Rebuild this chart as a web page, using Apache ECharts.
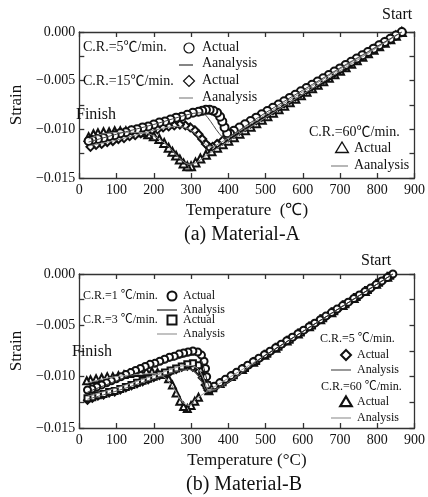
<!DOCTYPE html>
<html><head><meta charset="utf-8">
<script src="https://cdn.jsdelivr.net/npm/echarts@6/dist/echarts.min.js"></script>
<style>html,body{margin:0;padding:0;background:#fff}#c{width:428px;height:497px}</style>
</head><body><div id="c"></div>
<script>
// ---------- Material-A (cooling curves) ----------
const tempA5 = [866,850,835,820,805,790,775,760,745,730,715,700,685,670,655,640,625,610,595,580,565,550,535,520,505,490,475,460,445,430,415,405,397,390,384,378,370,360,350,340,330,320,305,290,275,260,245,230,215,200,185,170,155,140,125,110,95,80,65,50,35,25];
const strainA5 = [0,-0.00036,-0.0007,-0.00104,-0.00137,-0.00171,-0.00205,-0.00239,-0.00272,-0.00306,-0.0034,-0.00374,-0.00407,-0.00441,-0.00475,-0.00509,-0.00542,-0.00576,-0.0061,-0.00644,-0.00677,-0.00711,-0.00745,-0.00779,-0.00812,-0.00846,-0.0088,-0.00914,-0.00947,-0.00981,-0.01015,-0.01045,-0.0104,-0.0098,-0.0092,-0.0087,-0.0083,-0.0081,-0.008,-0.008,-0.0081,-0.0082,-0.0083,-0.0085,-0.0087,-0.0088,-0.009,-0.0092,-0.0093,-0.0095,-0.0097,-0.0098,-0.01,-0.0101,-0.0103,-0.0104,-0.0106,-0.0107,-0.0109,-0.011,-0.0111,-0.0112];

const tempA15 = [866,850,835,820,805,790,775,760,745,730,715,700,685,670,655,640,625,610,595,580,565,550,535,520,505,490,475,460,445,430,415,400,385,370,358,348,340,330,320,310,298,285,270,255,240,225,210,195,180,165,150,135,120,105,90,75,60,45,30];
const strainA15 = [0,-0.00037,-0.00072,-0.00107,-0.00142,-0.00176,-0.00211,-0.00246,-0.00281,-0.00316,-0.0035,-0.00385,-0.0042,-0.00455,-0.0049,-0.00524,-0.00559,-0.00594,-0.00629,-0.00664,-0.00698,-0.00733,-0.00768,-0.00803,-0.00838,-0.00872,-0.00907,-0.00942,-0.00977,-0.01012,-0.01046,-0.01081,-0.01116,-0.0115,-0.0118,-0.0118,-0.0115,-0.011,-0.0105,-0.0101,-0.0098,-0.0096,-0.0095,-0.0096,-0.0097,-0.0098,-0.01,-0.0101,-0.0103,-0.0104,-0.0106,-0.0107,-0.0109,-0.011,-0.0112,-0.0113,-0.0115,-0.0116,-0.0118];

const tempA60 = [866,850,835,820,805,790,775,760,745,730,715,700,685,670,655,640,625,610,595,580,565,550,535,520,505,490,475,460,445,430,415,400,385,370,355,340,325,312,300,290,280,270,260,250,240,228,215,200,185,170,155,140,125,110,95,80,65,50,38,25];
const strainA60 = [0,-0.00038,-0.00074,-0.0011,-0.00146,-0.00182,-0.00218,-0.00254,-0.0029,-0.00326,-0.00362,-0.00398,-0.00434,-0.0047,-0.00506,-0.00542,-0.00578,-0.00614,-0.0065,-0.00686,-0.00722,-0.00758,-0.00794,-0.0083,-0.00866,-0.00902,-0.00938,-0.00974,-0.0101,-0.01046,-0.01082,-0.01118,-0.01154,-0.0119,-0.01226,-0.01262,-0.013,-0.0134,-0.0138,-0.0138,-0.0135,-0.0131,-0.0127,-0.0123,-0.0119,-0.0114,-0.011,-0.0107,-0.0105,-0.0103,-0.0102,-0.0102,-0.0102,-0.0102,-0.0102,-0.0103,-0.0103,-0.0104,-0.0105,-0.0108];

const anaTempA5 = [25,100,200,300,330,345,360,375,390,405,500,700,866];
const anaStrainA5 = [-0.0113,-0.0105,-0.0095,-0.0084,-0.0083,-0.0088,-0.0096,-0.0104,-0.0109,-0.0107,-0.0083,-0.0037,0];
const anaTempA15 = [25,100,200,260,290,310,330,350,365,500,700,866];
const anaStrainA15 = [-0.0117,-0.0111,-0.0101,-0.0097,-0.0099,-0.0104,-0.0112,-0.0118,-0.0117,-0.0085,-0.0038,0];
const anaTempA60 = [25,60,120,180,210,240,270,295,315,340,500,700,866];
const anaStrainA60 = [-0.011,-0.0105,-0.0103,-0.0104,-0.0109,-0.0118,-0.013,-0.0136,-0.0134,-0.0127,-0.0088,-0.004,0];

// ---------- Material-B ----------
const tempB1 = [842,827,812,797,782,767,752,737,722,707,692,677,662,647,632,617,602,587,572,557,542,527,512,497,482,467,452,437,422,407,392,377,362,350,345,342,339,335,328,318,305,292,280,268,255,242,229,216,203,190,177,164,151,138,125,112,99,86,73,60,47,34,22];
const strainB1 = [0,-0.00034,-0.00068,-0.00103,-0.00137,-0.00171,-0.00205,-0.00239,-0.00274,-0.00308,-0.00342,-0.00376,-0.0041,-0.00445,-0.00479,-0.00513,-0.00547,-0.00581,-0.00616,-0.0065,-0.00684,-0.00718,-0.00752,-0.00787,-0.00821,-0.00855,-0.00889,-0.00923,-0.00958,-0.00992,-0.01026,-0.0106,-0.01094,-0.0112,-0.0108,-0.01,-0.0092,-0.0085,-0.0079,-0.0076,-0.0075,-0.0076,-0.0077,-0.0078,-0.008,-0.0081,-0.0083,-0.0085,-0.0087,-0.0088,-0.009,-0.0092,-0.0094,-0.0096,-0.0098,-0.01,-0.0102,-0.0104,-0.0106,-0.0108,-0.011,-0.0112,-0.0113];

const tempB3 = [835,805,775,745,715,685,655,625,595,565,535,505,475,445,415,385,360,348,342,337,330,320,305,290,275,260,245,230,215,200,185,170,155,140,125,110,95,80,65,50,35,22];
const strainB3 = [-0.00017,-0.00086,-0.00155,-0.00224,-0.00294,-0.00363,-0.00432,-0.00501,-0.0057,-0.0064,-0.00709,-0.00778,-0.00847,-0.00916,-0.00986,-0.01055,-0.01112,-0.0114,-0.0108,-0.01,-0.0093,-0.0089,-0.0087,-0.0088,-0.009,-0.0092,-0.0094,-0.0096,-0.0098,-0.01,-0.0102,-0.0104,-0.0106,-0.0108,-0.011,-0.0112,-0.0114,-0.0115,-0.0117,-0.0118,-0.012,-0.0121];

const tempB5 = [820,790,760,730,700,670,640,610,580,550,520,490,460,430,400,370,352,345,338,330,320,305,290,275,260,245,230,215,200,185,170,155,140,125,110,95,80,65,50,35,22];
const strainB5 = [-0.00051,-0.0012,-0.00189,-0.00258,-0.00327,-0.00396,-0.00465,-0.00534,-0.00603,-0.00672,-0.00741,-0.0081,-0.00879,-0.00948,-0.01017,-0.01086,-0.01127,-0.0113,-0.0108,-0.0101,-0.0095,-0.0091,-0.009,-0.0091,-0.0093,-0.0095,-0.0097,-0.0099,-0.0101,-0.0103,-0.0105,-0.0107,-0.0109,-0.0111,-0.0113,-0.0115,-0.0116,-0.0118,-0.0119,-0.0121,-0.0123];

const tempB60 = [828,798,768,738,708,678,648,618,588,558,528,498,468,438,408,378,348,320,310,300,290,280,270,260,250,240,225,210,195,180,165,150,135,120,105,90,75,60,45,30,20];
const strainB60 = [-0.00032,-0.00101,-0.0017,-0.00239,-0.00308,-0.00377,-0.00446,-0.00515,-0.00584,-0.00653,-0.00722,-0.00791,-0.0086,-0.00929,-0.00998,-0.01067,-0.01136,-0.012,-0.0124,-0.0128,-0.0131,-0.0129,-0.0124,-0.0116,-0.0108,-0.0102,-0.0098,-0.0096,-0.0095,-0.0095,-0.0096,-0.0096,-0.0097,-0.0098,-0.0099,-0.01,-0.01,-0.0101,-0.0102,-0.0103,-0.0104];

const anaTempB1 = [22,100,200,280,310,325,335,345,355,500,700,842];
const anaStrainB1 = [-0.0115,-0.0104,-0.0090,-0.0081,-0.0079,-0.0082,-0.0092,-0.0106,-0.0112,-0.0079,-0.0033,0];
const anaTempB3 = [22,100,200,270,300,320,335,348,500,700,842];
const anaStrainB3 = [-0.0119,-0.0111,-0.0099,-0.0090,-0.0089,-0.0093,-0.0103,-0.0113,-0.0079,-0.0033,0];
const anaTempB5 = [22,100,200,270,295,315,330,345,500,700,842];
const anaStrainB5 = [-0.0122,-0.0114,-0.0102,-0.0094,-0.0093,-0.0097,-0.0106,-0.0114,-0.0079,-0.0033,0];
const anaTempB60 = [22,80,150,200,230,255,275,295,315,500,700,842];
const anaStrainB60 = [-0.0106,-0.0101,-0.0098,-0.0097,-0.0101,-0.0112,-0.0124,-0.0128,-0.0121,-0.0079,-0.0033,0];

const xTicks = [0,100,200,300,400,500,600,700,800,900];
const yMin = -0.015, yMax = 0;

function zip(t, s){ return t.map((v,i)=>[v, s[i]]); }

const SERIF = '"Liberation Serif","Times New Roman",serif';
const chart = echarts.init(document.getElementById('c'), null, {renderer:'canvas'});

function yLabel(v){
  const k = Math.round(v/0.005);
  if (Math.abs(k*0.005 - v) > 1e-9) return '';
  if (k === 0) return '0.000';
  return '\u2212' + Math.abs(k*0.005).toFixed(3);
}
const axisLineStyle = {color:'#333', width:1.3};
function xAx(g, pos, name){
  return {gridIndex:g, type:'value', min:xTicks[0], max:xTicks[xTicks.length-1], interval:100, position:pos,
    axisLine:{show:true, onZero:false, lineStyle:axisLineStyle},
    axisTick:{show:true, inside:true, length:5, lineStyle:{color:'#333', width:1.3}},
    axisLabel:{show:pos==='bottom', color:'#111', fontFamily:SERIF, fontSize:14, margin:5},
    splitLine:{show:false},
    name: name||'', nameLocation:'middle', nameGap:24,
    nameTextStyle:{color:'#111', fontFamily:SERIF, fontSize:17}};
}
function yAx(g, pos){
  return {gridIndex:g, type:'value', min:yMin, max:yMax, interval:0.0025, position:pos,
    axisLine:{show:true, onZero:false, lineStyle:axisLineStyle},
    axisTick:{show:true, inside:true, length:5, lineStyle:{color:'#333', width:1.3}},
    axisLabel:{show:pos==='left', color:'#111', fontFamily:SERIF, fontSize:14, margin:4, formatter:yLabel},
    splitLine:{show:false},
    name: pos==='left' ? 'Strain' : '', nameLocation:'middle', nameGap:46, nameRotate:90,
    nameTextStyle:{color:'#111', fontFamily:SERIF, fontSize:17}};
}
function sc(xi, yi, sym, size, data, bw, z){
  return {type:'scatter', xAxisIndex:xi, yAxisIndex:yi, symbol:sym, symbolSize:size, data:data,
    itemStyle:{color:'#111', borderWidth:bw, opacity:1}, z:z, silent:true};
}
function ln(xi, yi, data, color, w, z){
  return {type:'line', xAxisIndex:xi, yAxisIndex:yi, data:data, showSymbol:false, symbol:'none', smooth:0.3,
    lineStyle:{color:color, width:w}, z:z, silent:true};
}

// decoration helpers
function txt(x, y, s, size, align){
  return {type:'text', silent:true, z:100, style:{x:x, y:y, text:s, fill:'#111',
    font: size + 'px ' + SERIF, textAlign:align||'left', align:align||'left', textVerticalAlign:'middle', verticalAlign:'middle'}};
}
function crText(x, y, rate, size){
  return {type:'text', silent:true, z:100, style:{x:x, y:y, fill:'#111', textVerticalAlign:'middle', verticalAlign:'middle',
    text:'C.R.=' + rate + '\u2103/min.', font: size+'px "Liberation Serif","Noto Sans CJK SC",serif'}};
}
function circ(cx, cy, r, lw){ return {type:'circle', silent:true, z:100, shape:{cx:cx, cy:cy, r:r}, style:{fill:'#fff', stroke:'#111', lineWidth:lw}}; }
function diam(cx, cy, r, lw){ return {type:'polygon', silent:true, z:100, shape:{points:[[cx,cy-r],[cx+r,cy],[cx,cy+r],[cx-r,cy]]}, style:{fill:'#fff', stroke:'#111', lineWidth:lw}}; }
function tri(cx, cy, r, lw){ return {type:'polygon', silent:true, z:100, shape:{points:[[cx,cy-r],[cx+r*1.05,cy+r*0.75],[cx-r*1.05,cy+r*0.75]]}, style:{fill:'#fff', stroke:'#111', lineWidth:lw}}; }
function sq(cx, cy, r, lw){ return {type:'rect', silent:true, z:100, shape:{x:cx-r, y:cy-r, width:2*r, height:2*r}, style:{fill:'#fff', stroke:'#111', lineWidth:lw}}; }
function seg(x1, x2, y, color, w){ return {type:'line', silent:true, z:100, shape:{x1:x1, y1:y, x2:x2, y2:y}, style:{stroke:color, lineWidth:w}}; }

const graphics = [
  // Material-A annotations
  crText(83, 47, '5', 14),
  circ(189, 48, 5, 1.2), txt(202, 47, 'Actual', 14),
  seg(179, 193, 65, '#333', 1.2), txt(202, 63, 'Aanalysis', 14),
  crText(83, 81, '15', 14),
  diam(189, 81, 5.5, 1.2), txt(202, 80, 'Actual', 14),
  seg(179, 193, 98, '#888', 1.2), txt(202, 97, 'Aanalysis', 14),
  txt(76, 115, 'Finish', 16),
  txt(382, 15, 'Start', 16),
  crText(309, 132, '60', 14),
  tri(342, 148, 6, 1.4), txt(354, 148, 'Actual', 14),
  seg(331, 348, 166, '#888', 1.2), txt(354, 165, 'Aanalysis', 14),
  txt(242, 235, '(a) Material-A', 20, 'center'),
  // Material-B annotations
  crText(83, 296, '1 ', 12),
  circ(172, 296, 4.5, 2), txt(183, 296, 'Actual', 12),
  seg(157, 177, 310, '#222', 1.2), txt(183, 310, 'Analysis', 12),
  crText(83, 320, '3 ', 12),
  sq(172, 320, 4.5, 2), txt(183, 320, 'Actual', 12),
  seg(157, 177, 334, '#999', 1.2), txt(183, 334, 'Analysis', 12),
  txt(72, 352, 'Finish', 16),
  txt(361, 261, 'Start', 16),
  crText(320, 339, '5 ', 12),
  diam(346, 355, 5, 2), txt(357, 355, 'Actual', 12),
  seg(331, 351, 370, '#555', 1.2), txt(357, 370, 'Analysis', 12),
  crText(321, 387, '60 ', 12),
  tri(346, 402, 5.5, 2.2), txt(357, 402, 'Actual', 12),
  seg(331, 351, 418, '#999', 1.2), txt(357, 418, 'Analysis', 12),
  txt(244, 485, '(b) Material-B', 20, 'center')
];

const option = {
  animation:false,
  backgroundColor:'#fff',
  grid:[{left:69, top:32, width:348, height:146}, {left:69, top:274, width:348, height:154}],
  xAxis:[xAx(0,'bottom','Temperature  (\u2103)'), xAx(0,'top'), xAx(1,'bottom','Temperature (\u00B0C)'), xAx(1,'top')],
  yAxis:[yAx(0,'left'), yAx(0,'right'), yAx(1,'left'), yAx(1,'right')],
  series:[
    sc(0,0,'emptyTriangle',8, zip(tempA60,strainA60), 1, 2),
    sc(0,0,'emptyDiamond',8, zip(tempA15,strainA15), 1, 3),
    sc(0,0,'emptyCircle',8, zip(tempA5,strainA5), 1.4, 4),
    ln(0,0, zip(anaTempA60,anaStrainA60), '#888', 1, 10),
    ln(0,0, zip(anaTempA15,anaStrainA15), '#888', 1, 10),
    ln(0,0, zip(anaTempA5,anaStrainA5), '#444', 1, 10),
    sc(2,2,'emptyTriangle',7, zip(tempB60,strainB60), 1.3, 2),
    sc(2,2,'emptyDiamond',7, zip(tempB5,strainB5), 1.5, 3),
    sc(2,2,'emptyRect',6, zip(tempB3,strainB3), 1.5, 3),
    sc(2,2,'emptyCircle',7, zip(tempB1,strainB1), 1.8, 4),
    ln(2,2, zip(anaTempB60,anaStrainB60), '#999', 1, 10),
    ln(2,2, zip(anaTempB5,anaStrainB5), '#555', 1, 10),
    ln(2,2, zip(anaTempB3,anaStrainB3), '#999', 1, 10),
    ln(2,2, zip(anaTempB1,anaStrainB1), '#222', 1, 10)
  ],
  graphic: graphics
};
chart.setOption(option);
</script>
</body></html>
